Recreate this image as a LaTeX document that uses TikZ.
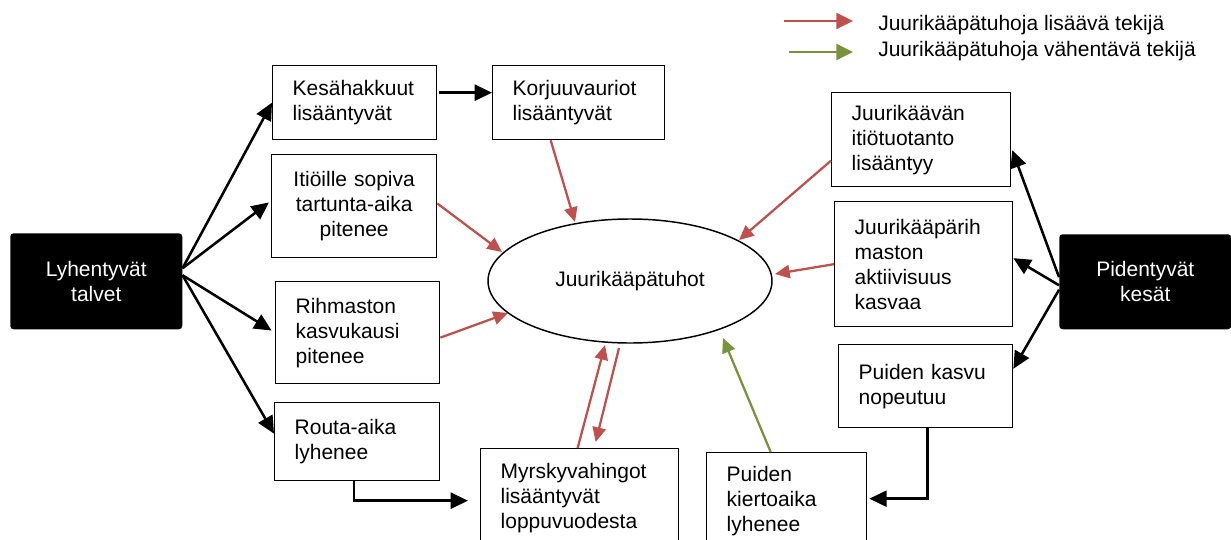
\documentclass[tikz,border=0pt]{standalone}
\usepackage{fontspec}
\setmainfont{Liberation Sans}
\usetikzlibrary{arrows.meta,calc,shapes.geometric}
\definecolor{redc}{RGB}{192,80,77}
\definecolor{greenc}{RGB}{119,147,60}
\hyphenpenalty=10000
\exhyphenpenalty=10000
\begin{document}
\begin{tikzpicture}[x=0.75pt,y=-0.75pt,
  every node/.style={font=\fontsize{15.75}{18.75}\selectfont},
  box/.style={draw, line width=1pt, rectangle, anchor=north west, inner xsep=15pt, inner ysep=0pt, align=left},
  blackbox/.style={fill=black, text=white, rounded corners=2.5pt, anchor=north west, align=center, inner sep=0pt},
  blk/.style={line width=1.9pt, -{Triangle[length=13pt,width=12pt]}},
  redarrow/.style={line width=1.7pt, color=redc, -{Triangle[length=11pt,width=10pt]}},
  greenarrow/.style={line width=1.7pt, color=greenc, -{Triangle[length=11pt,width=10pt]}},
  legred/.style={line width=1.8pt, color=redc, -{Triangle[length=12.5pt,width=12pt]}},
  leggreen/.style={line width=1.8pt, color=greenc, -{Triangle[length=12.5pt,width=12pt]}},
  legtext/.style={anchor=base west, inner sep=0pt}
]
\useasboundingbox (0,0) rectangle (1231,539);

% black boxes
\node[blackbox, minimum width=129pt, minimum height=72pt] (lyh) at (10,233) {Lyhentyvät\\talvet};
\node[blackbox, minimum width=129pt, minimum height=71.25pt] (pid) at (1059,234) {Pidentyvät\\kesät};

% ellipse
\node[draw, ellipse, line width=1.1pt, minimum width=213pt, minimum height=93pt, inner sep=0pt] (ell) at (630,281) {Juurikääpätuhot};

% boxes
\node[box, text width=93pt, minimum height=55.5pt] (kes) at (272,65) {Kesähakkuut\\lisääntyvät};
\node[box, text width=99pt, minimum height=55.5pt] (kor) at (492,65) {Korjuuvauriot\\lisääntyvät};
\node[box, align=center, text width=93.75pt, minimum height=77.25pt] (itio) at (271,154) {Itiöille sopiva\\tartunta-aika\\pitenee};
\node[box, text width=93pt, minimum height=76.5pt] (rih) at (275,281) {Rihmaston\\kasvukausi\\pitenee};
\node[box, text width=93.75pt, minimum height=58.5pt] (routa) at (274,402) {Routa-aika\\lyhenee};
\node[box, text width=118.5pt, minimum height=73.5pt] (myr) at (480,448) {Myrskyvahingot\\lisääntyvät\\loppuvuodesta};
\node[box, text width=90pt, minimum height=72pt] (kie) at (706,452) {Puiden\\kiertoaika\\lyhenee};
\node[box, text width=100.5pt, minimum height=62.25pt] (kas) at (838,344) {Puiden kasvu\\nopeutuu};
\node[box, text width=104.25pt, minimum height=70.5pt] (juv) at (831,92) {Juurikäävän\\itiötuotanto\\lisääntyy};
\node[box, text width=103.5pt, minimum height=93.75pt] (jpr) at (834,201) {Juurikääpärih\\maston\\aktiivisuus\\kasvaa};

% black arrows from Lyhentyvät talvet
\draw[blk] ([yshift=9.75pt]lyh.east) -- (kes.west);
\draw[blk, shorten >=2pt] ([yshift=9.75pt]lyh.east) -- ([yshift=4pt]itio.west);
\draw[blk, shorten >=3pt] ([yshift=4.5pt]lyh.east) -- (rih.west);
\draw[blk] ([yshift=4.5pt]lyh.east) -- ([yshift=6pt]routa.west);

% Kesähakkuut -> Korjuuvauriot
\draw[blk, shorten <=1.5pt] ([yshift=7.5pt]kes.east) -- ([yshift=7.5pt]kor.west);

% red arrows to ellipse
\draw[redarrow] ([xshift=-21pt]kor.south) -- ($(ell.center)+(-55,-59)$);
\draw[redarrow] ([yshift=2pt]itio.east) -- ($(ell.center)+(-128,-29)$);
\draw[redarrow] ([yshift=-3.75pt]rih.east) -- ($(ell.center)+(-122,32)$);
\draw[redarrow] ([xshift=-1.5pt]myr.north) -- ($(ell.center)+(-25,64)$);
\draw[redarrow] ($(ell.center)+(-11,67)$) -- ([xshift=12pt,yshift=4.5pt]myr.north);
\draw[redarrow] ([yshift=-15.75pt]juv.west) -- ($(ell.center)+(109,-41)$);
\draw[redarrow] (jpr.west) -- ($(ell.center)+(145,-7)$);

% green arrow
\draw[greenarrow] ([xshift=-12pt]kie.north) -- ($(ell.center)+(93,57)$);

% black arrows from Pidentyvät kesät
\draw[blk, shorten >=2pt] ([yshift=3.5pt]pid.west) -- ([yshift=-6pt]juv.east);
\draw[blk] ([yshift=-2.6pt]pid.west) -- ([yshift=4.5pt]jpr.east);
\draw[blk] ([yshift=-6pt]pid.west) -- ([yshift=13pt]kas.east);

% elbow arrows
\draw[blk] ([xshift=-2.5pt]routa.south) |- ([xshift=-9pt,yshift=-2.25pt]myr.west);
\draw[blk, shorten >=1.5pt] ([xshift=1.5pt]kas.south) |- ([yshift=1.5pt]kie.east);

% legend
\coordinate (lr1) at (784,21);
\coordinate (lr2) at (853,21);
\coordinate (lg1) at (789,52);
\coordinate (lg2) at (853,52);
\draw[legred] (lr1) -- (lr2);
\draw[leggreen] (lg1) -- (lg2);
\node[legtext] (lt1) at (878,31) {Juurikääpätuhoja lisäävä tekijä};
\node[legtext] (lt2) at (878,56) {Juurikääpätuhoja vähentävä tekijä};
\end{tikzpicture}
\end{document}
